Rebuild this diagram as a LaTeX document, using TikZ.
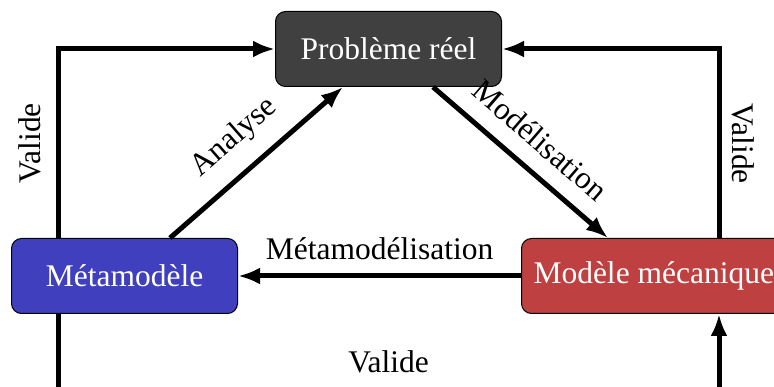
\documentclass[tikz,border=0pt]{standalone}
\usepackage{fontspec}
\setmainfont{Liberation Serif}
\usetikzlibrary{arrows.meta}
\begin{document}
\begin{tikzpicture}[x=1pt,y=-1pt,
  box/.style={draw=black, line width=1pt, rounded corners=10pt, minimum width=226pt, minimum height=75pt, inner xsep=12pt, text=white, font=\fontsize{31.5pt}{38pt}\selectfont},
  conn/.style={line width=5pt, -{Latex[length=22pt,width=17pt]}},
  lab/.style={font=\fontsize{31.5pt}{38pt}\selectfont, text=black},
]
\useasboundingbox (0,0) rectangle (774,387);
\node[box, fill=black!50!gray, anchor=north west] (p) at (275,11) {Problème réel};
\node[box, fill=blue!50!gray, anchor=north west] (m) at (11,238) {Métamodèle};
\node[box, fill=red!50!gray, anchor=north west] (mm) at (521,238) {Modèle mécanique};
\draw[conn] ([xshift=159pt]m.north west) -- node[lab, midway, sloped, above=13pt]{Analyse} ([xshift=68pt]p.south west);
\draw[conn] ([xshift=158pt]p.south west) -- node[lab, midway, sloped, above=13pt]{Modélisation} ([xshift=87pt]mm.north west);
\draw[conn] (mm.west) -- node[lab, midway, above=10pt]{Métamodélisation} (m.east);
\draw[conn] ([xshift=47pt]m.north west) |- node[lab, pos=0.25, sloped, above=11.5pt]{Valide} (p.west);
\draw[conn] ([xshift=198pt]mm.north west) |- node[lab, pos=0.25, rotate=-90, anchor=south, outer ysep=9.5pt]{Valide} (p.east);
\draw[conn] ([xshift=47pt]m.south west) -- ++(0,82) -| node[lab, pos=0.25, above=17pt]{Valide} ([xshift=198pt]mm.south west);
\end{tikzpicture}
\end{document}
